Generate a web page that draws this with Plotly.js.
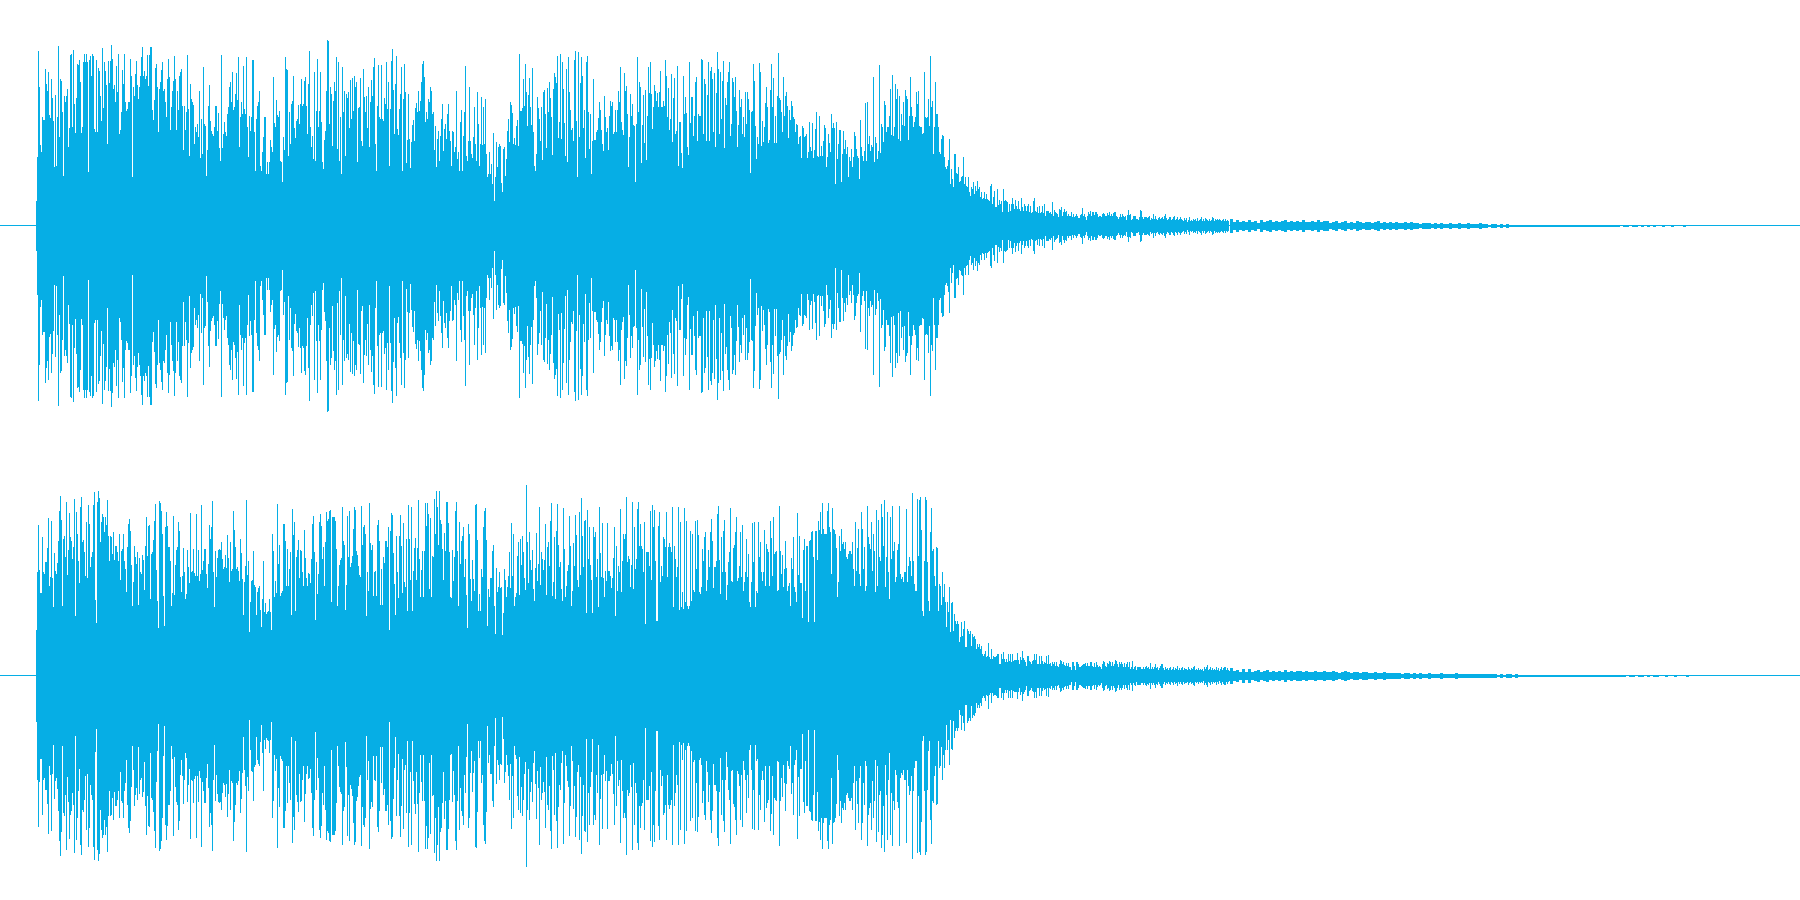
<!DOCTYPE html>
<html><head><meta charset="utf-8">
<script src="https://cdn.plot.ly/plotly-3.0.1.min.js"></script>
<style>html,body{margin:0;padding:0;background:#fff}#c{width:1800px;height:900px}</style>
</head><body><div id="c"></div>
<script>
var waveColor = "#06AEE5";
var loudStart = 36, tailStart = 1230;
// Channel 1: peak magnitude per column, loud part and early decay
var ch1Loud = [25,69,175,139,81,74,109,106,106,157,142,135,154,111,108,147,128,105,59,131,60,109,180,89,147,145,114,50,130,124,130,137,79,98,171,172,99,176,122,93,128,162,161,166,144,93,99,164,172,164,172,164,54,166,170,150,172,170,97,94,166,94,158,155,130,105,178,118,164,155,141,82,165,143,165,181,167,137,141,124,160,134,172,92,96,114,156,142,172,124,115,117,124,124,167,150,49,139,130,152,165,141,127,139,150,169,179,150,155,147,150,171,140,171,179,179,116,106,126,158,162,139,94,137,144,156,164,135,137,124,109,147,167,149,96,119,135,145,170,147,96,135,116,150,154,157,120,76,120,96,114,171,117,70,142,127,124,121,82,99,94,102,89,135,68,107,72,159,102,100,50,76,120,141,105,95,92,90,99,120,120,95,113,78,65,171,78,92,104,94,90,112,119,139,144,124,154,116,119,132,153,126,169,79,109,124,112,160,117,112,169,99,69,110,95,109,166,166,94,55,107,120,124,135,60,55,74,89,109,109,52,64,52,64,86,79,74,149,103,99,126,111,109,115,65,64,44,89,76,169,157,156,70,114,82,122,125,150,98,88,105,107,121,102,122,147,120,122,145,149,120,92,142,175,99,79,90,67,154,65,115,167,99,115,154,104,64,57,86,95,135,186,185,102,139,132,80,125,144,135,169,77,164,65,109,52,159,114,135,70,132,128,134,98,146,107,148,115,150,139,144,64,118,119,148,85,80,157,129,114,130,98,139,79,124,146,130,159,168,82,55,120,161,109,107,161,107,105,128,122,164,117,144,60,117,165,177,136,92,142,170,97,91,117,132,159,55,127,162,134,63,86,132,87,58,84,101,106,85,118,123,114,135,115,125,144,162,165,149,104,114,107,127,124,139,135,112,114,76,100,59,87,95,65,90,107,122,75,97,102,87,112,122,95,85,60,95,94,74,79,135,67,74,55,104,116,55,90,114,160,70,65,85,139,85,72,68,89,119,82,65,134,102,60,82,129,81,119,82,127,72,49,52,74,52,62,42,93,25,49,84,59,79,
82,80,43,34,77,79,50,67,95,107,84,124,121,113,82,88,81,100,106,80,172,115,115,118,147,120,162,134,100,131,148,119,101,158,94,60,55,72,129,118,107,85,119,66,134,136,112,78,138,114,144,128,109,71,137,153,149,143,170,88,104,172,87,164,137,103,70,157,64,169,134,116,96,98,85,166,175,105,49,174,89,143,169,150,98,116,68,164,170,114,77,112,52,85,147,86,86,94,96,108,124,116,96,82,75,130,109,94,98,76,110,125,120,124,92,94,116,94,116,135,124,159,104,96,91,153,135,140,112,59,89,132,110,122,101,100,44,102,169,114,144,139,63,101,131,83,136,66,110,159,133,164,132,97,119,141,135,125,133,119,134,155,119,119,125,120,166,150,109,138,96,107,152,84,128,148,92,95,160,60,104,104,73,58,150,112,129,113,79,71,164,103,129,129,90,110,144,149,85,112,110,110,167,166,92,147,142,85,131,164,85,155,159,147,94,153,79,133,174,157,92,154,107,145,165,78,128,121,144,154,164,90,102,148,144,129,149,115,79,101,136,119,127,92,109,89,134,102,134,127,116,53,114,115,162,145,100,67,89,82,163,154,80,105,84,99,123,139,119,83,86,136,162,119,148,83,110,83,130,173,128,126,114,94,149,110,130,134,120,88,116,106,125,120,109,107,94,102,101,82,89,90,68,100,98,89,90,92,68,74,104,79,75,103,68,76,97,114,70,69,110,70,80,70,85,101,98,59,69,92,83,74,112,98,103,98,42,104,67,82,96,96,44,72,95,77,86,72,79,49,69,65,77,59,69,94,90,77,70,68,47,106,79,70,65,75,123,65,124,82,90,75,81,79,149,64,89,83,67,75,161,73,102,99,84,125,121,94,99,99,110,137,91,151,90,99,142,127,137,87,130,85,112,101,124,100,136,130,127,86,110,149,119,110,99,104,109,134,122,135,100,99,99,92,93,154,109,108,109,127,100,170,119,125,72,99,144,112,112,99,74,72,87,91,90,69,59,57,60,66,87,42,57,47,39,72,72,53,52,59,44,45,49,50,69,42,49,40,39,49,34,30,39,37,44,32,40,35,45,37,39,29,34,27,28,34,27,32,27,26,25,40,42,22,29,35,19,19,37,21,
26,22,25,14,37,25,26,25,24,14,22,15,22,28,22,17,26,20,17,25,17,15,28,19,15,22,20,15,20,22,14,20,13,14,25,28,15,14,19,13,20,13,14,20,13,22,10,15,15,15,13,14,12,24,10,16,14,13,12,9,17,16,19,10,14,17,14,15,10,12,10,10,14,9,12,9,10,12,10,8,8,11,12,18,10,12,9,6,10,14,12,15,10,14,14,11,14,14,12,9,10,10,9,12,13,12,10,10,13,11,14,10,12,10,13,14,14,10,9,7,9,12,9,12,10,9,10,6,11,16,11,12,6,7,10,10,10,7,7,6,9,16,15,9,7,9,9,9,8,9,10,6,8,7,12,7,10,7,6,8,9,7,8,9,7,10,12,8,6,7,9,9,6,7,9,10,6,7,9,6,7,9,7,6,5,8,6,8,4,6,9,5,6,5,7,6,7,5,8,5,6,7,9,5,7,5,8,7,6,5,7,5,6,9,8,5,7,6,7,6,7,6,5,6,7,5,7,5,6,5];
// Channel 1: late decay, one value per three columns
var ch1Tail = [7,4,6,4,5,4,6,4,5,3,6,4,5,6,4,5,4,5,6,4,5,4,5,4,6,4,4,5,4,6,4,5,5,3,4,5,3,4,5,3,4,3,5,4,3,4,4,3,4,5,3,4,3,4,3,4,3,3,4,3,4,3,3,2,3,3,3,2,3,2,3,2,2,3,2,2,3,2,2,3,2,2,2,3,2,2,1,2,2,1,2,1,2,1,1,1,1,1,1,1,1,1,1,1,1,1,1,1,1,1,1,1,1,1,1,1,1,1,1,1,1,1,1,1,1,1,1,1,1,1,0,1,1,0,1,1,0,1,0,1,0,1,0,0,1,0,0,1,0,0,0,1,0];
// Channel 2
var ch2Loud = [46,104,151,106,83,83,139,104,102,114,114,128,158,90,99,155,98,69,123,105,102,113,135,165,180,156,70,137,140,119,174,101,126,163,139,135,117,129,177,60,164,142,115,93,169,179,134,136,124,100,154,98,171,152,109,119,124,171,184,76,53,174,185,178,134,154,162,159,144,159,151,176,140,115,140,139,122,144,116,130,130,124,115,142,96,125,127,142,115,107,84,129,152,157,145,111,70,94,130,119,112,124,71,118,104,102,121,116,86,130,159,120,150,151,77,122,124,136,155,172,106,75,48,175,173,165,142,80,50,149,164,150,129,129,115,70,83,160,81,111,126,129,154,145,99,84,100,128,104,77,82,126,109,93,163,104,105,127,103,100,162,100,126,95,102,171,106,115,127,127,102,88,112,151,137,149,175,104,69,125,99,118,126,127,126,134,117,107,109,121,108,141,118,94,134,105,107,165,146,129,107,109,105,95,137,123,97,61,94,110,176,101,115,44,74,95,96,125,91,89,61,84,88,90,66,49,77,115,64,73,62,64,65,77,64,46,142,125,79,95,83,172,112,131,80,83,85,152,152,135,90,127,90,107,124,61,167,141,154,65,119,126,136,98,126,125,104,90,146,118,98,90,103,102,93,117,152,160,124,56,114,82,102,154,162,150,117,129,90,134,164,155,157,165,166,74,159,159,159,155,127,70,90,111,116,118,169,135,131,66,91,160,119,165,109,113,120,147,169,166,125,121,110,101,99,170,131,149,151,142,60,104,85,173,133,126,131,80,104,105,80,151,156,135,71,107,71,119,113,135,135,129,149,46,145,163,161,123,92,61,140,104,78,140,161,130,83,153,94,89,137,65,171,137,96,169,65,105,128,138,96,128,176,117,79,106,125,79,125,173,150,173,162,87,158,79,120,119,177,142,185,169,131,185,156,152,127,96,143,125,174,174,153,124,79,78,126,95,119,165,174,125,70,154,112,135,140,149,99,117,81,48,152,142,97,75,116,97,85,171,172,136,65,82,65,107,99,149,165,168,136,50,87,79,98,98,125,131,70,42,108,84,89,104,
88,89,41,63,107,96,79,89,100,124,88,153,100,142,70,79,83,120,134,81,137,111,140,124,98,86,191,134,93,144,116,106,126,87,75,108,143,95,112,169,91,124,117,106,116,152,81,129,134,110,155,173,80,94,139,77,145,172,131,109,114,87,75,168,127,79,90,105,111,160,130,70,85,133,110,161,141,96,89,164,101,178,140,109,155,156,63,166,117,149,111,96,63,149,139,144,99,117,69,169,123,99,153,98,79,105,95,153,105,105,100,88,98,118,149,60,130,85,110,104,167,84,115,142,137,142,179,114,120,117,89,111,174,87,149,107,117,167,174,130,152,130,127,104,154,52,124,124,124,110,165,96,171,149,166,115,55,55,150,164,94,110,100,139,137,129,164,99,129,133,129,124,169,69,130,117,99,109,169,66,154,69,84,67,168,74,155,70,67,70,145,75,142,86,84,155,107,156,141,84,82,89,127,115,139,144,85,96,126,109,144,157,135,88,109,109,115,162,170,116,82,139,104,145,156,104,76,91,114,124,168,95,94,128,131,144,159,95,98,110,144,99,151,85,94,104,137,99,122,74,69,94,153,114,154,69,85,83,154,119,134,104,95,104,146,90,132,127,124,90,155,138,100,159,122,124,125,85,86,170,125,102,121,89,107,135,108,85,90,93,70,118,107,139,89,84,74,163,101,140,93,93,58,126,137,85,130,130,54,135,136,144,145,119,54,145,145,116,155,146,164,142,173,147,142,142,142,165,173,149,144,102,168,147,146,142,128,79,94,140,125,147,132,134,127,134,119,117,122,125,125,122,134,107,90,154,105,128,147,102,90,164,147,107,129,85,90,170,139,132,127,154,105,142,125,84,166,90,156,119,115,172,159,130,176,89,119,164,104,77,159,117,170,125,134,94,99,126,132,170,102,97,99,94,104,104,167,94,110,119,115,100,183,115,92,85,85,177,120,176,179,146,65,60,115,179,176,114,75,65,144,168,125,127,100,90,129,128,65,92,90,71,104,79,92,74,49,74,64,89,44,73,74,45,62,55,52,55,52,34,39,54,40,47,55,29,29,47,45,42,45,30,42,39,40,37,27,32,29,32,27,30,22,20,22,25,19,20,33,19,17,27,17,20,19,19,20,22,22,12,
12,22,17,24,17,14,17,14,22,15,22,14,22,15,16,16,16,23,16,12,19,16,25,18,16,14,10,20,20,15,14,12,15,16,22,16,22,12,12,20,12,20,15,12,14,13,20,12,21,12,13,10,14,12,14,10,14,10,9,12,16,15,12,14,11,10,13,10,13,9,9,6,14,14,10,6,14,14,12,9,9,10,11,12,12,13,10,13,10,10,14,14,10,9,13,9,14,11,9,10,9,7,12,15,14,10,9,13,12,15,14,10,14,10,12,16,15,12,9,14,12,14,12,9,13,9,12,14,9,14,7,9,15,7,9,10,6,9,9,9,9,7,7,9,7,9,10,8,9,7,13,7,9,7,9,12,8,9,6,8,10,12,12,8,6,9,7,8,6,8,9,6,7,9,6,8,7,10,6,8,6,8,9,6,8,7,7,6,9,7,6,8,7,9,10,6,7,6,8,6,7,6,7,5,9,7,9,11,6,7,9,6,8,6,7,6,9,6,8,5,7,9,6,8,9,9,6,8,6,5];
var ch2Tail = [8,5,6,4,7,4,7,4,5,6,4,5,6,4,5,4,5,4,6,4,5,4,5,5,4,5,4,4,5,4,4,5,4,4,5,4,3,4,5,4,3,4,4,3,4,4,3,3,4,3,3,4,3,3,3,3,3,2,3,3,2,3,2,3,2,2,3,2,2,2,3,2,2,2,2,3,2,2,2,2,2,2,2,2,2,2,2,2,2,1,2,1,2,2,1,2,1,1,1,1,1,1,1,1,1,1,1,1,1,1,1,1,1,1,1,1,1,1,1,1,1,1,1,1,1,1,1,1,1,1,1,1,0,1,1,0,1,1,0,1,0,1,1,0,0,1,0,0,1,0,0,0,1];

var lineEnds = [0, 1800];

function columns(values, start, step, ax) {
  return {
    type: "bar", xaxis: "x", yaxis: ax,
    x: values.map(function (_, i) { return start + step * i + step / 2; }),
    y: values.map(function (v) { return 2 * v; }),
    base: values.map(function (v) { return -v; }),
    width: step,
    marker: {color: waveColor, line: {width: 0}},
    hoverinfo: "skip", showlegend: false
  };
}
function centre(ax) {
  return {type: "scatter", mode: "lines", xaxis: "x", yaxis: ax, x: lineEnds, y: [0, 0],
    line: {color: waveColor, width: 1}, hoverinfo: "skip", showlegend: false};
}
var data = [
  centre("y"), centre("y2"),
  columns(ch1Loud, loudStart, 1, "y"), columns(ch1Tail, tailStart, 3, "y"),
  columns(ch2Loud, loudStart, 1, "y2"), columns(ch2Tail, tailStart, 3, "y2")
];
var hidden = {showgrid: false, zeroline: false, showticklabels: false, ticks: "", showline: false, fixedrange: true};
var layout = {
  width: 1800, height: 900,
  margin: {l: 0, r: 0, t: 0, b: 0, pad: 0},
  paper_bgcolor: "#ffffff", plot_bgcolor: "#ffffff",
  barmode: "overlay", bargap: 0,
  xaxis: Object.assign({range: [0, 1800], domain: [0, 1]}, hidden),
  yaxis: Object.assign({range: [-224.5, 225.5], domain: [0.5, 1]}, hidden),
  yaxis2: Object.assign({range: [-224.5, 225.5], domain: [0, 0.5]}, hidden)
};
Plotly.newPlot("c", data, layout, {displayModeBar: false});
</script></body></html>
